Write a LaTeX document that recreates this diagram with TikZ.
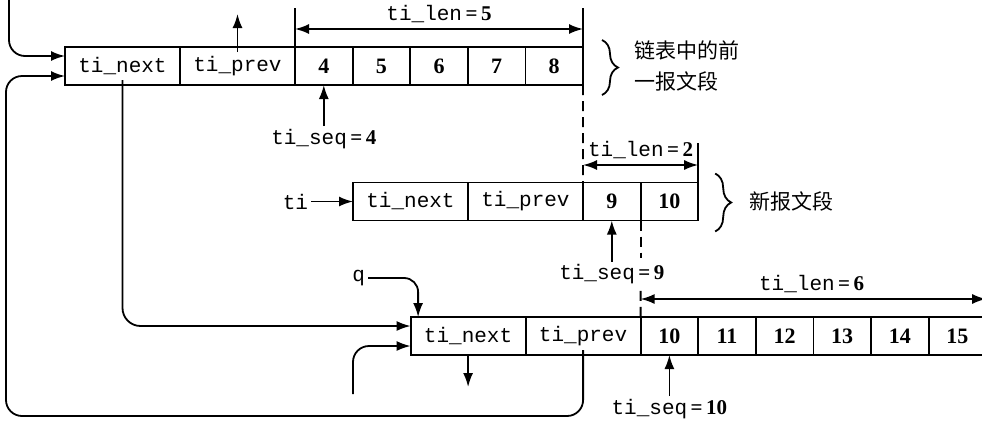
\documentclass[tikz,border=0pt]{standalone}
\usepackage{fontspec}
\setmainfont{Liberation Serif}
\newfontfamily\monofont{Liberation Mono}
\newfontfamily\cjkfont{Noto Sans CJK SC}
\usetikzlibrary{positioning, arrows.meta, decorations.pathreplacing}

\newcommand{\tival}[2]{{\monofont #1}\,\textbf{=\,#2}}

\tikzset{
  cell/.style={draw, minimum height=19pt, inner sep=0pt, outer sep=0pt},
  hdr/.style={cell, minimum width=57.5pt, font=\fontsize{10.5}{12}\monofont},
  byte/.style={cell, minimum width=28.8pt, font=\fontsize{11}{13}\selectfont\bfseries},
  lbl/.style={font=\fontsize{10.5}{12}\selectfont, inner sep=1pt},
  cn/.style={font=\fontsize{10.5}{15.5}\cjkfont, align=left, anchor=west},
  dim/.style={<->},
  gap/.style={dashed, dash pattern=on 5pt off 3pt},
  brc/.style={decorate, decoration={brace, amplitude=8pt}},
}

\begin{document}
\begin{tikzpicture}[x=0.5pt, y=-0.5pt, line width=0.9pt, >={Latex[length=7pt,width=5pt]}]

    \useasboundingbox (0,0) rectangle (982,424);

    % previous segment in the list
    \node[hdr, anchor=west] (tnext) at (65,66) {ti\_next};
    \node[hdr, right=0pt of tnext] (tprev) {ti\_prev};
    \node[byte, right=0pt of tprev] (t4) {4};
    \node[byte, right=0pt of t4] (t5) {5};
    \node[byte, right=0pt of t5] (t6) {6};
    \node[byte, right=0pt of t6] (t7) {7};
    \node[byte, right=0pt of t7] (t8) {8};

    % new segment
    \node[hdr, anchor=west] (mnext) at (353,201.5) {ti\_next};
    \node[hdr, right=0pt of mnext] (mprev) {ti\_prev};
    \node[byte, right=0pt of mprev] (m9) {9};
    \node[byte, right=0pt of m9] (m10) {10};

    % next segment in the list
    \node[hdr, anchor=west] (bnext) at (410.6,336) {ti\_next};
    \node[hdr, right=0pt of bnext] (bprev) {ti\_prev};
    \node[byte, right=0pt of bprev] (b10) {10};
    \node[byte, right=0pt of b10] (b11) {11};
    \node[byte, right=0pt of b11] (b12) {12};
    \node[byte, right=0pt of b12] (b13) {13};
    \node[byte, right=0pt of b13] (b14) {14};
    \node[byte, right=0pt of b14] (b15) {15};

    \coordinate (tin) at (9,-2);
    \coordinate (tup) at (0,14);
    \coordinate (lvA) at (0,8);
    \coordinate (dimA) at (0,29);
    \coordinate (lvB) at (0,143);
    \coordinate (dimB) at (0,165);
    \coordinate (dimC) at (0,299);
    \coordinate (bin) at (353,394);
    \coordinate (bdown) at (0,387);
    \coordinate (loopc) at (6,416);

    \node[lbl, below=20.5pt of t4] (seq4) {\tival{ti\_seq}{4}};
    \node[lbl, below=20.5pt of m9] (seq9) {\tival{ti\_seq}{9}};
    \node[lbl, below=20.5pt of b10] (seq10) {\tival{ti\_seq}{10}};
    \node[lbl, left=21pt of mnext] (ti) {{\monofont ti}};
    \node[lbl, anchor=east] (q) at (368,278) {{\monofont q}};

    \node[cn] (oldseg) at ([xshift=22pt]t8.east) {链表中的前\\一报文段};
    \node[cn] (newseg) at ([xshift=22pt]m10.east) {新报文段};

    \draw[brc] ([xshift=9.5pt,yshift=3.5pt]t8.north east) -- ([xshift=9.5pt,yshift=-5pt]t8.south east);
    \draw[brc] ([xshift=8.5pt,yshift=4.5pt]m10.north east) -- ([xshift=8.5pt,yshift=-5.5pt]m10.south east);

    % lengths
    \draw (t4.north west) -- (t4.north west |- lvA);
    \draw (t8.north east) -- (t8.north east |- lvA);
    \draw[dim] (t4.north west |- dimA) -- node[lbl, above=1.5pt] (len5) {\tival{ti\_len}{5}} (t8.north east |- dimA);
    \draw[gap] (t8.south east) -- (m9.north west);
    \draw (m10.north east) -- (m10.north east |- lvB);
    \draw[dim] (m9.north west |- dimB) -- node[lbl, above=1.5pt] (len2) {\tival{ti\_len}{2}} (m10.north east |- dimB);
    \draw[gap] (m10.south west) -- ([yshift=2pt]m10.south west |- seq9.north);
    \draw[gap] ([yshift=-2pt]m10.south west |- seq9.south) -- (b10.north west);
    \draw[dim] (b10.north west |- dimC) -- node[lbl, above=1.5pt, pos=0.495] (len6) {\tival{ti\_len}{6}} (b15.north east |- dimC);

    % pointers
    \draw[->, rounded corners=8pt] (tin) |- ([yshift=5pt]tnext.west);
    \draw[->] ([yshift=-2.5pt]tprev.north) -- (tprev.north |- tup);
    \draw[->, rounded corners=9pt] ([yshift=2.5pt]tnext.south) |- ([yshift=5pt]bnext.west);
    \draw[->, rounded corners=8pt] ([yshift=2.5pt]bprev.south) |- (loopc) |- ([yshift=-5pt]tnext.west);
    \draw[->] (ti) -- (mnext);
    \draw[->, rounded corners=7pt] (q) -| ([xshift=-25pt]bnext.north);
    \draw[->, rounded corners=8pt] (bin) |- ([yshift=-5pt]bnext.west);
    \draw[->] (bnext.south) -- (bnext.south |- bdown);
    \draw[->] (seq4) -- (t4);
    \draw[->] (seq9) -- (m9);
    \draw[->] (seq10) -- (b10);

\end{tikzpicture}
\end{document}
